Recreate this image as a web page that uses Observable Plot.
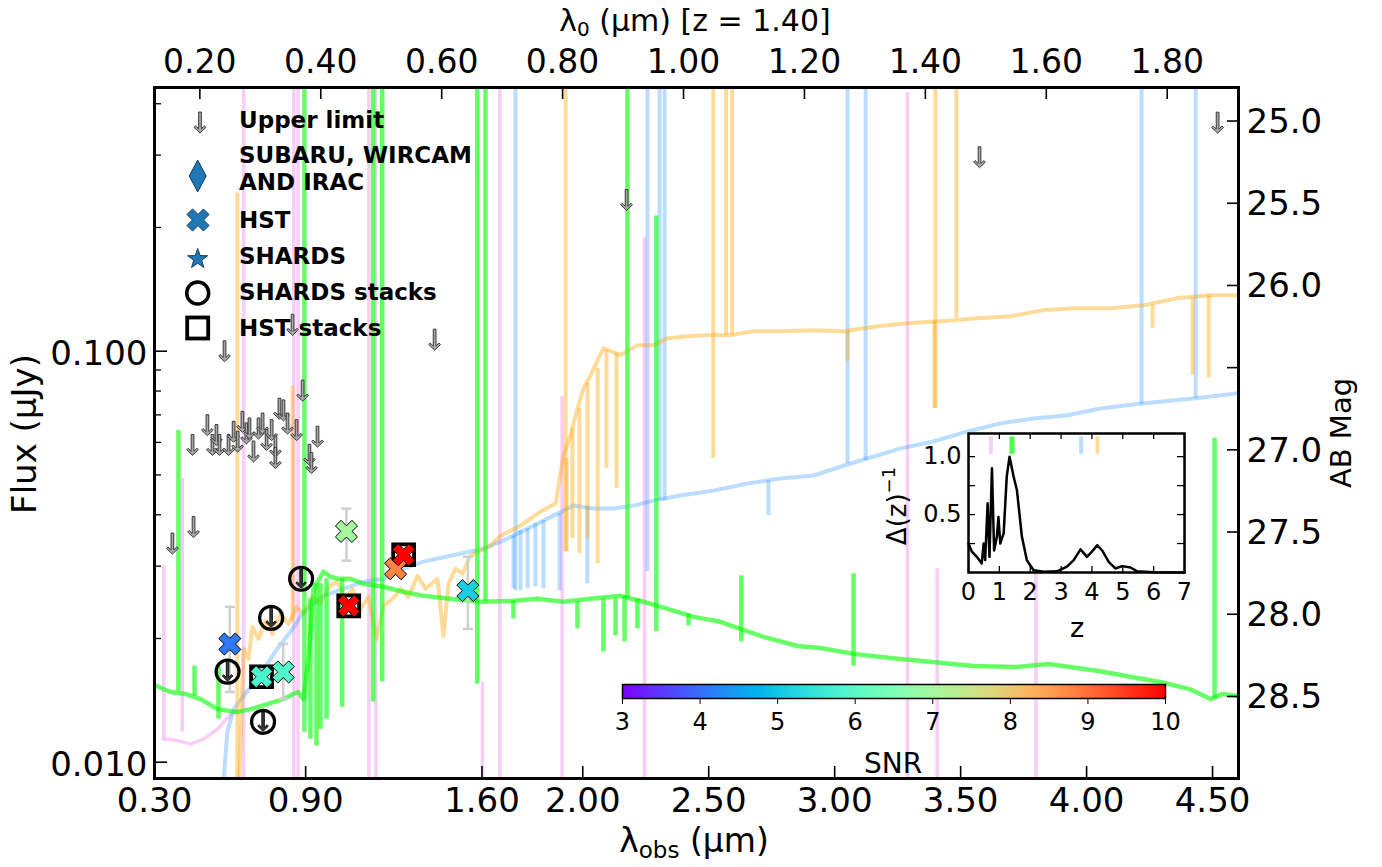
<!DOCTYPE html>
<html><head><meta charset="utf-8">
<script src="https://cdn.jsdelivr.net/npm/d3@7"></script>
<script src="https://cdn.jsdelivr.net/npm/@observablehq/plot@0.6"></script>
<style>
body{margin:0;background:#fff;}
#wrap{position:relative;width:1382px;height:867px;font-family:"DejaVu Sans",sans-serif;overflow:hidden;}
#wrap > *{position:absolute;}
</style></head><body><div id="wrap"></div>
<script>
// ---------------- data (λ in µm, AB magnitudes) ----------------
const Z_BEST = 1.40;
const xTickValues = [0.30, 0.90, 1.60, 2.00, 2.50, 3.00, 3.50, 4.00, 4.50];
const restTickValues = [0.20, 0.40, 0.60, 0.80, 1.00, 1.20, 1.40, 1.60, 1.80];
const magTickValues = [25.0, 25.5, 26.0, 26.5, 27.0, 27.5, 28.0, 28.5, 29.0];
const fluxMajorTicks = [0.01, 0.1];
const fluxMinorTicks = [0.02, 0.03, 0.04, 0.05, 0.06, 0.07, 0.08, 0.09, 0.2, 0.3, 0.4];
const snrTicks = [3, 4, 5, 6, 7, 8, 9, 10];

const greenSpec = [[0.300,28.430],[0.336,28.455],[0.364,28.473],[0.423,28.485],[0.483,28.516],[0.550,28.577],[0.629,28.595],[0.681,28.577],[0.721,28.559],[0.812,28.516],[0.868,28.473],[0.892,28.516],[0.911,28.272],[0.931,27.845],[0.971,27.741],[0.999,27.772],[1.026,27.784],[1.078,27.784],[1.130,27.815],[1.209,27.833],[1.288,27.863],[1.368,27.888],[1.475,27.906],[1.594,27.924],[1.725,27.918],[1.820,27.906],[1.924,27.924],[2.031,27.906],[2.150,27.888],[2.241,27.924],[2.337,27.967],[2.440,28.016],[2.547,28.046],[2.626,28.089],[2.718,28.138],[2.853,28.193],[2.944,28.205],[3.075,28.241],[3.222,28.266],[3.389,28.290],[3.551,28.315],[3.718,28.321],[3.849,28.302],[4.048,28.345],[4.179,28.382],[4.294,28.412],[4.409,28.455],[4.492,28.516],[4.540,28.485],[4.603,28.498]];
const greenSpikes = [[0.395,26.882,28.473],[0.459,28.315,28.498],[0.554,28.315,28.638],[0.895,24.5,28.717],[0.919,27.906,28.760],[0.943,27.815,28.802],[0.959,27.815,28.699],[0.983,27.784,28.638],[1.045,27.784,28.565],[1.168,24.5,28.534],[1.204,24.5,28.412],[1.581,24.5,28.424],[1.614,24.5,27.924],[2.177,24.5,27.906],[2.292,25.577,28.107],[2.629,27.766,28.168],[3.075,27.754,28.315],[4.508,26.930,28.516],[1.725,27.918,28.028],[1.979,27.924,28.089],[2.082,27.906,28.229],[2.130,27.906,28.132],[2.166,27.888,28.168],[2.217,27.906,28.089],[2.420,27.998,28.071]];

const orangeSpec = [[0.633,29.2],[0.653,28.211],[0.673,28.272],[0.689,28.077],[0.713,28.150],[0.741,28.040],[0.768,28.120],[0.800,27.998],[0.832,28.059],[0.864,27.955],[0.895,27.998],[0.927,27.894],[0.959,27.937],[0.991,27.833],[1.026,27.802],[1.058,27.906],[1.086,27.845],[1.118,27.967],[1.150,27.894],[1.181,28.150],[1.209,27.949],[1.245,27.906],[1.277,27.845],[1.308,27.894],[1.344,27.766],[1.376,27.845],[1.423,27.784],[1.447,28.132],[1.467,27.815],[1.495,27.723],[1.523,27.754],[1.554,27.644],[1.594,27.613],[1.634,27.583],[1.674,27.522],[1.753,27.461],[1.832,27.376],[1.892,27.327],[1.924,27.034],[1.951,26.912],[1.979,26.748],[2.003,26.626],[2.031,26.546],[2.082,26.382],[2.150,26.424],[2.217,26.363],[2.281,26.363],[2.337,26.321],[2.416,26.309],[2.495,26.302],[2.587,26.302],[2.678,26.278],[2.785,26.278],[2.916,26.272],[3.035,26.278],[3.170,26.248],[3.301,26.229],[3.432,26.217],[3.567,26.199],[3.698,26.187],[3.829,26.150],[3.964,26.138],[4.095,26.138],[4.226,26.120],[4.361,26.077],[4.492,26.059],[4.603,26.059]];
const orangeSpikes = [[1.936,27.052,27.620],[1.959,26.870,27.540],[1.987,26.748,27.632],[2.019,26.595,27.540],[2.059,26.504,27.693],[2.094,26.394,27.113],[2.134,26.412,27.235],[3.051,26.278,26.461],[3.396,26.217,26.748],[4.262,26.120,26.260],[4.421,26.077,26.546],[4.485,26.059,26.565],[0.629,25.437,29.2],[0.848,26.613,28.046],[1.932,24.5,27.620],[2.518,24.5,27.052],[2.569,24.5,26.302],[2.593,24.5,26.302],[3.400,24.5,26.748],[3.483,24.5,26.199]];

const blueSpec = [[0.565,29.2],[0.589,28.717],[0.614,28.577],[0.653,28.498],[0.708,28.394],[0.787,28.211],[0.840,28.107],[0.892,27.985],[0.971,27.888],[1.050,27.845],[1.130,27.802],[1.209,27.784],[1.288,27.723],[1.368,27.680],[1.475,27.644],[1.606,27.601],[1.674,27.559],[1.725,27.522],[1.805,27.461],[1.884,27.400],[1.963,27.339],[2.043,27.357],[2.122,27.357],[2.202,27.339],[2.281,27.309],[2.388,27.278],[2.519,27.248],[2.654,27.205],[2.785,27.174],[2.916,27.156],[3.063,27.083],[3.262,26.991],[3.392,26.949],[3.527,26.888],[3.658,26.839],[3.789,26.809],[3.924,26.790],[4.055,26.748],[4.226,26.717],[4.425,26.687],[4.603,26.656]];
const blueSpikes = [[1.725,27.522,27.845],[1.753,27.490,27.857],[1.781,27.479,27.845],[1.812,27.449,27.833],[1.844,27.430,27.845],[1.908,27.388,27.857],[2.018,27.345,27.815],[2.737,27.187,27.400],[1.733,24.5,27.857],[2.257,24.5,27.741],[2.305,24.5,27.309],[2.325,24.5,27.309],[3.051,24.5,27.083],[3.123,24.5,27.065],[4.218,24.5,26.723],[4.433,24.5,26.687]];

const pinkSpec = [[0.336,28.760],[0.364,28.760],[0.415,28.778],[0.443,28.790],[0.495,28.760],[0.550,28.699],[0.602,28.607],[0.629,28.589]];
const pinkSpikes = [[0.337,27.705,28.760],[0.410,27.174,28.717],[0.654,24.5,29.2],[0.853,24.5,29.2],[0.870,24.5,29.2],[1.151,24.5,29.2],[1.179,24.5,29.2],[1.602,28.412,29.2],[1.671,24.5,29.2],[1.918,26.674,29.2],[2.245,25.711,29.2],[3.289,24.827,29.2],[3.407,27.723,29.2],[3.799,27.741,29.2]];

const upperLimits = [[0.371,27.57],[0.455,27.47],[0.451,26.97],[0.510,26.85],[0.530,26.97],[0.546,26.91],[0.558,26.97],[0.594,26.97],[0.614,26.89],[0.630,26.95],[0.649,26.83],[0.665,26.90],[0.677,26.87],[0.693,27.01],[0.713,26.87],[0.729,26.84],[0.745,26.94],[0.765,26.88],[0.780,26.98],[0.780,27.05],[0.796,26.75],[0.812,26.76],[0.828,26.84],[0.864,26.88],[0.888,26.64],[0.915,27.03],[0.923,27.08],[0.947,26.92],[0.578,26.40],[0.848,26.24],[1.412,26.33],[2.174,25.48],[3.575,25.22],[4.520,25.01]];
const shardsStacks = [[0.882,27.784],[0.763,28.022],[0.590,28.349],[0.731,28.654]];
// [λ, mag, SNR, errTop mag, errBottom mag]
const hstPoints = [[0.599,28.181,4.1,27.955,28.473],[0.725,28.380,5.8,null,null],[0.811,28.351,5.9,28.180,28.516],[1.062,27.496,7.0,27.357,27.674],[1.071,27.949,10,null,null],[1.257,27.723,8.8,null,null],[1.289,27.638,10,null,null],[1.544,27.856,5.1,27.650,28.089]];
const hstStacks = [[0.725,28.380],[1.071,27.949],[1.289,27.638]];

const pzZ = [0,0.11,0.27,0.43,0.49,0.54,0.62,0.68,0.76,0.83,0.92,0.97,1.03,1.14,1.24,1.33,1.46,1.57,1.73,1.89,2.11,2.44,2.87,3.19,3.41,3.63,3.84,4.0,4.17,4.33,4.55,4.76,4.98,5.25,5.47,6.0,7.0];
const pzP = [0.25,0.18,0.135,0.078,0.25,0.107,0.597,0.135,0.9,0.19,0.31,0.48,0.25,0.34,0.83,1.0,0.83,0.71,0.31,0.107,0.02,0.006,0.01,0.05,0.107,0.2,0.135,0.18,0.236,0.19,0.09,0.035,0.055,0.043,0.01,0.003,0.0];
const templateZ = [0.725, 1.41, 3.65, 4.18];
const templateColors = ["violet", "lime", "dodgerblue", "orange"];
const templateOpacity = [0.4, 0.7, 0.3, 0.4];

// ---------------- helpers ----------------
const flux = m => 10 ** ((23.9 - m) / 2.5);
const toMag = f => 23.9 - 2.5 * Math.log10(f);
const mplRainbow = t => {
  const r = Math.min(1, Math.abs(2 * t - 0.5)), g = Math.sin(Math.PI * t), b = Math.max(0, Math.cos(Math.PI * t / 2));
  return d3.rgb(r * 255, g * 255, b * 255).formatHex();
};
function xPoints(r) {
  const L = 1.06 * r, w = 0.36 * r;
  return [[w,L],[w,w],[L,w],[L,-w],[w,-w],[w,-L],[-w,-L],[-w,-w],[-L,-w],[-L,w],[-w,w],[-w,L]]
    .map(([a, b]) => [(a - b) * Math.SQRT1_2, (a + b) * Math.SQRT1_2]);
}
function arrowPoints(r) {
  const a = 0.13 * r;
  return [[-a,-r],[a,-r],[a,0.6*r],[0.42*r,0.32*r],[0.56*r,0.46*r],[0,r],[-0.56*r,0.46*r],[-0.42*r,0.32*r],[-a,0.6*r]];
}
const polySymbol = fn => ({draw(ctx, size) { const p = fn(Math.sqrt(size / Math.PI)); ctx.moveTo(p[0][0], p[0][1]); for (let i = 1; i < p.length; i++) ctx.lineTo(p[i][0], p[i][1]); ctx.closePath(); }});
const xMarker = polySymbol(xPoints);
const arrowMarker = polySymbol(arrowPoints);
const capMarker = {draw(ctx, size) { const r = Math.sqrt(size / Math.PI); ctx.moveTo(-r, 0); ctx.lineTo(r, 0); }};
const pathOf = (pts, cx, cy) => "M" + pts.map(p => [cx + p[0], cy + p[1]].join(",")).join("L") + "Z";

const W = 1382, H = 867, ML = 154, MR = 144, MT = 87, MB = 89;
const IW = W - ML - MR, IH = H - MT - MB;
const X = d => d[0], Y = d => flux(d[1]);
const spikeMark = (data, stroke, op, sw) => Plot.ruleX(data, {x: X, y1: d => flux(d[1]), y2: d => flux(d[2]), stroke, strokeOpacity: op, strokeWidth: sw, clip: true});
const specMark = (data, stroke, op, sw) => Plot.line(data, {x: X, y: Y, stroke, strokeOpacity: op, strokeWidth: sw, clip: true});
const errRows = hstPoints.filter(d => d[3] != null);

const main = Plot.plot({
  width: W, height: H, marginLeft: ML, marginRight: MR, marginTop: MT, marginBottom: MB,
  style: {fontFamily: "DejaVu Sans", background: "transparent", color: "black"},
  x: {domain: [0.30, 4.603]},
  y: {type: "log", domain: [flux(28.999), flux(24.796)]},
  color: {type: "linear", domain: [3, 10], interpolate: mplRainbow},
  marks: [
    spikeMark(pinkSpikes, "violet", 0.4, 3.5),
    specMark(pinkSpec, "violet", 0.4, 3.5),
    spikeMark(blueSpikes, "dodgerblue", 0.3, 4),
    specMark(blueSpec, "dodgerblue", 0.3, 4),
    spikeMark(orangeSpikes, "orange", 0.4, 4),
    specMark(orangeSpec, "orange", 0.4, 4),
    spikeMark(greenSpikes, "lime", 0.6, 4.5),
    specMark(greenSpec, "lime", 0.6, 4.5),
    Plot.ruleX(errRows, {x: X, y1: d => flux(d[3]), y2: d => flux(d[4]), stroke: "#cfcfcf", strokeWidth: 2.5}),
    Plot.dot(errRows, {x: X, y: d => flux(d[3]), symbol: capMarker, r: 5, stroke: "#cfcfcf", strokeWidth: 2.5, fill: "none"}),
    Plot.dot(errRows, {x: X, y: d => flux(d[4]), symbol: capMarker, r: 5, stroke: "#cfcfcf", strokeWidth: 2.5, fill: "none"}),
    Plot.dot(hstStacks, {x: X, y: Y, symbol: "square", r: 11.8, stroke: "black", strokeWidth: 3.8, fill: "none"}),
    Plot.dot(shardsStacks, {x: X, y: Y, symbol: "circle", r: 11.5, stroke: "black", strokeWidth: 3.2, fill: "none"}),
    Plot.dot(shardsStacks, {x: X, y: Y, symbol: arrowMarker, r: 9.5, fill: "#3a3a3a", stroke: "#111", strokeWidth: 1}),
    Plot.dot(hstPoints, {x: X, y: Y, symbol: xMarker, r: 11, fill: d => d[2], stroke: "black", strokeWidth: 1}),
    Plot.dot(upperLimits, {x: X, y: Y, symbol: arrowMarker, r: 10.5, fill: "#a8a8a8", stroke: "#3a3a3a", strokeWidth: 1}),
    // inward tick marks
    Plot.tickX(xTickValues, {x: d => d, insetTop: IH - 12, stroke: "black", strokeWidth: 1.6}),
    Plot.tickX(restTickValues.map(v => v * (1 + Z_BEST)), {x: d => d, insetBottom: IH - 12, stroke: "black", strokeWidth: 1.6}),
    Plot.tickY(fluxMajorTicks, {y: d => d, insetRight: IW - 13, stroke: "black", strokeWidth: 1.6}),
    Plot.tickY(fluxMinorTicks, {y: d => d, insetRight: IW - 7, stroke: "black", strokeWidth: 1.3}),
    Plot.tickY(magTickValues.map(flux), {y: d => d, insetLeft: IW - 11, stroke: "black", strokeWidth: 1.6}),
    // axes labels
    Plot.axisX({anchor: "bottom", ticks: xTickValues, tickFormat: d3.format(".2f"), tickSize: 0, tickPadding: 23, lineAnchor: "middle", fontSize: 34, label: null}),
    Plot.axisX({anchor: "top", ticks: restTickValues.map(v => v * (1 + Z_BEST)), tickFormat: v => (v / (1 + Z_BEST)).toFixed(2), tickSize: 0, tickPadding: 25, lineAnchor: "middle", fontSize: 33, label: null}),
    Plot.axisY({anchor: "left", ticks: fluxMajorTicks, tickFormat: d3.format(".3f"), tickSize: 0, tickPadding: 7, fontSize: 34, dy: 3, label: null}),
    Plot.axisY({anchor: "right", ticks: magTickValues.map(flux), tickFormat: f => toMag(f).toFixed(1), tickSize: 0, tickPadding: 8, fontSize: 34, dy: 1, label: null}),
    Plot.frame({stroke: "black", strokeWidth: 3})
  ]
});
main.style.left = "0px"; main.style.top = "0px";

// ---------------- inset P(z) ----------------
const iML = 70, iMR = 10, iMT = 10, iMB = 75, iW = 296, iH = 224;
const iIW = iW - iML - iMR, iIH = iH - iMT - iMB;
const zTicks = d3.range(0, 8);
const pzRows = pzZ.map((z, i) => [z, pzP[i]]);
const inset = Plot.plot({
  width: iW, height: iH, marginLeft: iML, marginRight: iMR, marginTop: iMT, marginBottom: iMB,
  style: {fontFamily: "DejaVu Sans", background: "transparent", overflow: "visible"},
  x: {domain: [0, 7]},
  y: {domain: [0, 1.2]},
  marks: [
    Plot.frame({fill: "white"}),
    ...templateZ.map((z, i) => Plot.ruleX([z], {x: d => d, y1: 1.02, y2: 1.17, stroke: templateColors[i], strokeOpacity: templateOpacity[i], strokeWidth: i === 1 ? 5 : 4})),
    Plot.line(pzRows, {x: d => d[0], y: d => d[1], stroke: "black", strokeWidth: 2.5}),
    Plot.tickX(zTicks, {x: d => d, insetTop: iIH - 6, stroke: "black", strokeWidth: 1.3}),
    Plot.tickX(zTicks, {x: d => d, insetBottom: iIH - 6, stroke: "black", strokeWidth: 1.3}),
    Plot.tickY([0.25, 0.5, 0.75, 1.0], {y: d => d, insetRight: iIW - 7, stroke: "black", strokeWidth: 1.3}),
    Plot.tickY([0.25, 0.5, 0.75, 1.0], {y: d => d, insetLeft: iIW - 7, stroke: "black", strokeWidth: 1.3}),
    Plot.axisX({ticks: zTicks, tickFormat: d3.format("d"), tickSize: 0, tickPadding: 20, lineAnchor: "middle", fontSize: 24, label: null}),
    Plot.axisY({ticks: [0.5, 1.0], tickFormat: d3.format(".1f"), tickSize: 0, tickPadding: 7, fontSize: 24, label: null}),
    Plot.frame({stroke: "black", strokeWidth: 2.5})
  ]
});
inset.style.left = "898.3px"; inset.style.top = "423.3px";

// ---------------- colorbar ----------------
const cbar = Plot.plot({
  width: 663, height: 109, marginLeft: 60, marginRight: 60, marginTop: 5, marginBottom: 90,
  style: {fontFamily: "DejaVu Sans", background: "transparent", overflow: "visible"},
  x: {domain: [3, 10]},
  y: {domain: [0, 1], axis: null},
  color: {type: "linear", domain: [3, 10], interpolate: mplRainbow},
  marks: [
    Plot.raster({x1: 3, x2: 10, y1: 0, y2: 1, fill: (x, y) => x}),
    Plot.frame({stroke: "black", strokeWidth: 1.5}),
    Plot.axisX({ticks: snrTicks, tickFormat: d3.format("d"), tickSize: 6, tickPadding: 8, fontSize: 24, label: null})
  ]
});
cbar.style.left = "562px"; cbar.style.top = "679px";

// ---------------- overlay: legend + titles ----------------
const wrap = document.getElementById("wrap");
wrap.append(main, cbar, inset);
const ov = d3.select(wrap).append("svg").attr("width", W).attr("height", H)
  .style("left", "0px").style("top", "0px").style("pointer-events", "none")
  .attr("font-family", "DejaVu Sans");

// legend
const lg = ov.append("g");
lg.append("path").attr("d", pathOf(arrowPoints(10.5), 200, 122.5)).attr("fill", "#a8a8a8").attr("stroke", "#3a3a3a").attr("stroke-width", 1);
lg.append("path").attr("d", "M197.7,160L206.2,176L197.7,192L189.2,176Z").attr("fill", "#1f77b4").attr("stroke", "#163a5c").attr("stroke-width", 1);
lg.append("path").attr("d", pathOf(xPoints(11), 198, 220)).attr("fill", "#1f77b4").attr("stroke", "#163a5c").attr("stroke-width", 1);
const star = d3.range(10).map(i => { const a = -Math.PI / 2 + i * Math.PI / 5, rr = i % 2 ? 4.2 : 10.5; return [rr * Math.cos(a), rr * Math.sin(a)]; });
lg.append("path").attr("d", pathOf(star, 197.7, 259)).attr("fill", "#1f77b4").attr("stroke", "#163a5c").attr("stroke-width", 1);
lg.append("circle").attr("cx", 197.7).attr("cy", 293).attr("r", 11).attr("fill", "none").attr("stroke", "black").attr("stroke-width", 3.5);
lg.append("rect").attr("x", 187.2).attr("y", 317.5).attr("width", 21).attr("height", 21).attr("fill", "none").attr("stroke", "black").attr("stroke-width", 3.8);
const legendText = [["Upper limit", 128], ["SUBARU, WIRCAM", 163], ["AND IRAC", 190], ["HST", 228], ["SHARDS", 264], ["SHARDS stacks", 300], ["HST stacks", 336]];
legendText.forEach(([t, y]) => lg.append("text").attr("x", 239).attr("y", y).attr("font-size", 23).attr("font-weight", "bold").text(t));

// axis titles
const t1 = ov.append("text").attr("x", 695).attr("y", 31).attr("text-anchor", "middle").attr("font-size", 30);
t1.append("tspan").text("\u03bb");
t1.append("tspan").attr("font-size", 20).attr("dy", 5).text("0");
t1.append("tspan").attr("dy", -5).text(" (\u00b5m) [z = 1.40]");
const t2 = ov.append("text").attr("x", 694).attr("y", 852).attr("text-anchor", "middle").attr("font-size", 33);
t2.append("tspan").text("\u03bb");
t2.append("tspan").attr("font-size", 23).attr("dy", 6).text("obs");
t2.append("tspan").attr("dy", -6).text(" (\u00b5m)");
ov.append("text").attr("transform", "translate(36,434) rotate(-90)").attr("text-anchor", "middle").attr("font-size", 34).text("Flux (\u00b5Jy)");
ov.append("text").attr("transform", "translate(1351,433) rotate(-90)").attr("text-anchor", "middle").attr("font-size", 29).text("AB Mag");
ov.append("text").attr("x", 893).attr("y", 773).attr("text-anchor", "middle").attr("font-size", 28).text("SNR");
ov.append("text").attr("x", 1077).attr("y", 637).attr("text-anchor", "middle").attr("font-size", 27).text("z");
const t3 = ov.append("text").attr("transform", "translate(906,506) rotate(-90)").attr("text-anchor", "middle").attr("font-size", 26);
t3.append("tspan").text("\u0394(z)");
t3.append("tspan").attr("font-size", 18).attr("dy", -11).text("\u22121");
</script></body></html>
